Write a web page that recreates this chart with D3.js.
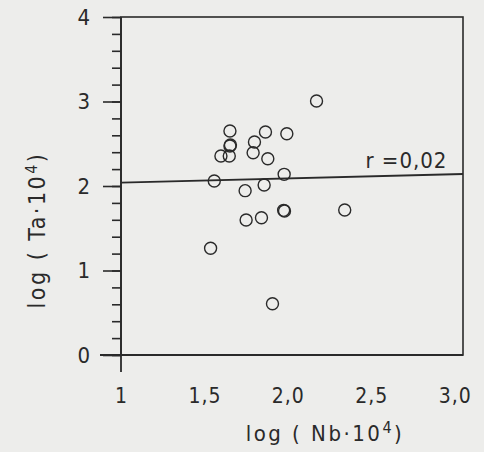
<!DOCTYPE html>
<html><head><meta charset="utf-8">
<script src="https://cdn.jsdelivr.net/npm/d3@7"></script>
<style>
html,body{margin:0;padding:0;background:#ededeb;}
svg{display:block;}
text{font-family:"DejaVu Sans Condensed","DejaVu Sans",sans-serif;fill:#2a2a2a;font-weight:300;}
</style></head>
<body><svg id="c" width="484" height="452"></svg>
<script>
// data
const nbLog = [2.172,1.653,1.866,1.994,1.800,1.653,1.656,1.599,1.649,1.792,1.880,1.978,1.559,1.858,1.744,1.980,1.975,2.341,1.750,1.842,1.537,1.908];
const taLog = [3.006,2.651,2.639,2.619,2.520,2.473,2.485,2.355,2.355,2.394,2.323,2.138,2.059,2.012,1.945,1.704,1.712,1.716,1.598,1.625,1.263,0.607];
const regLine = [[1,2.04],[3.05,2.142]];
const xTickVals = [1,1.5,2.0,2.5,3.0];
const xTickLabels = ["1","1,5","2,0","2,5","3,0"];
const yTickVals = [0,1,2,3,4];
const yMinorVals = d3.range(0,4.001,0.2);
const rLabel = "r =0,02";

const svg = d3.select("#c");
const ink = "#2a2a2a";
const x = d3.scaleLinear().domain([1,3.05]).range([121,463]);
const y = d3.scaleLinear().domain([0,4]).range([355,17]);

// frame
svg.append("rect").attr("x",x(1)).attr("y",y(4)).attr("width",x(3.05)-x(1)).attr("height",y(0)-y(4))
  .attr("fill","none").attr("stroke",ink).attr("stroke-width",1.6);
// axis extensions
svg.append("line").attr("x1",x(1)).attr("x2",x(1)).attr("y1",y(4)).attr("y2",y(0)+17).attr("stroke",ink).attr("stroke-width",1.8);
svg.append("line").attr("x1",x(1)-21).attr("x2",x(3.05)).attr("y1",y(0)).attr("y2",y(0)).attr("stroke",ink).attr("stroke-width",1.8);

// y minor ticks
const minor = svg.append("g").attr("transform",`translate(${x(1)},0)`)
  .call(d3.axisLeft(y).tickValues(yMinorVals).tickSize(9).tickFormat(""));
minor.select(".domain").remove();
minor.selectAll("line").attr("stroke",ink).attr("stroke-width",1.6);
// y major ticks
const major = svg.append("g").attr("transform",`translate(${x(1)},0)`)
  .call(d3.axisLeft(y).tickValues(yTickVals).tickSize(18).tickPadding(13).tickFormat(d3.format("d")));
major.select(".domain").remove();
major.selectAll("line").attr("stroke",ink).attr("stroke-width",1.6);
major.selectAll("text").attr("font-size",22).attr("fill",ink).style("font-family",null);

// x tick labels (no marks)
const xa = svg.append("g").attr("transform",`translate(0,${y(0)})`)
  .call(d3.axisBottom(x).tickValues(xTickVals).tickSize(0).tickPadding(33).tickFormat((d,i)=>xTickLabels[i]));
xa.select(".domain").remove();
xa.selectAll("text").attr("font-size",21).attr("fill",ink).attr("letter-spacing",1).style("font-family",null);

// regression line
svg.append("path").attr("d",d3.line().x(d=>x(d[0])).y(d=>y(d[1]))(regLine))
  .attr("stroke",ink).attr("stroke-width",1.8).attr("fill","none");

// points
svg.append("g").selectAll("circle").data(nbLog.map((v,i)=>[v,taLog[i]])).join("circle")
  .attr("cx",d=>x(d[0])).attr("cy",d=>y(d[1])).attr("r",6)
  .attr("fill","none").attr("stroke",ink).attr("stroke-width",1.4);

// r label
svg.append("text").attr("x",x(2.465)).attr("y",y(2.21)).attr("font-size",22).attr("letter-spacing",1).text(rLabel);

// axis titles
svg.append("text").attr("x",325).attr("y",441).attr("text-anchor","middle").attr("font-size",22).attr("letter-spacing",2.5)
  .html('log ( Nb·10<tspan dy="-8" font-size="16">4</tspan><tspan dy="8">)</tspan>');
svg.append("text").attr("transform","translate(45,230) rotate(-90)").attr("text-anchor","middle").attr("font-size",23).attr("letter-spacing",2.5)
  .html('log ( Ta·10<tspan dy="-8" font-size="16">4</tspan><tspan dy="8">)</tspan>');
</script></body></html>
